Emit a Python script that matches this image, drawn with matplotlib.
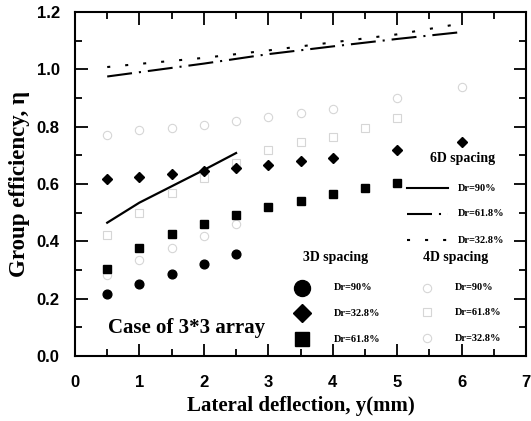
import numpy as np
import matplotlib
matplotlib.use("Agg")
import matplotlib.pyplot as plt

plt.rcParams['lines.scale_dashes'] = False

SERIF = "Liberation Serif"
SANS = "Liberation Sans"

# 3D spacing (filled markers)
x_3d_90 = [0.5, 1.0, 1.5, 2.0, 2.5]
eff_3d_90 = [0.215, 0.251, 0.287, 0.322, 0.357]
x_3d_618 = [0.5, 1.0, 1.5, 2.0, 2.5, 3.0, 3.5, 4.0, 4.5, 5.0]
eff_3d_618 = [0.305, 0.376, 0.424, 0.459, 0.491, 0.519, 0.542, 0.565, 0.585, 0.602]
x_3d_328 = [0.5, 1.0, 1.5, 2.0, 2.5, 3.0, 3.5, 4.0, 5.0, 6.0]
eff_3d_328 = [0.616, 0.625, 0.636, 0.645, 0.657, 0.666, 0.679, 0.690, 0.719, 0.746]

# 4D spacing (faint open markers in the scan)
x_4d_90 = [0.5, 1.0, 1.5, 2.0, 2.5]
eff_4d_90 = [0.282, 0.335, 0.376, 0.418, 0.46]
x_4d_618 = [0.5, 1.0, 1.5, 2.0, 2.5, 3.0, 3.5, 4.0, 4.5, 5.0]
eff_4d_618 = [0.422, 0.50, 0.567, 0.62, 0.675, 0.718, 0.745, 0.765, 0.795, 0.83]
x_4d_328 = [0.5, 1.0, 1.5, 2.0, 2.5, 3.0, 3.5, 4.0, 5.0, 6.0]
eff_4d_328 = [0.771, 0.788, 0.796, 0.806, 0.819, 0.835, 0.849, 0.863, 0.899, 0.937]

# 6D spacing (lines)
x_6d_90 = [0.5, 1.0, 1.5, 2.0, 2.5]
eff_6d_90 = [0.465, 0.535, 0.592, 0.649, 0.708]
x_6d = [0.5, 1.0, 2.0, 3.0, 4.0, 5.0, 6.0]
eff_6d_618 = [0.975, 0.99, 1.02, 1.053, 1.08, 1.106, 1.13]
eff_6d_328 = [1.008, 1.019, 1.04, 1.066, 1.094, 1.122, 1.16]

dr_labels = ["Dr=90%", "Dr=61.8%", "Dr=32.8%"]

ls_618 = (0, (18, 5, 1.5, 5))
ls_328 = (0, (2.2, 10.8))
faint = "#d6d6d6"

fig = plt.figure(figsize=(5.31, 4.21), dpi=100)
ax = fig.add_axes([75/531, 1 - 356/421, 451/531, 344/421])

# 6D lines
ax.plot(x_6d_90, eff_6d_90, color="k", lw=1.6)
ax.plot(x_6d, eff_6d_618, color="k", lw=1.5, linestyle=ls_618)
ax.plot(x_6d, eff_6d_328, color="k", lw=1.5, linestyle=ls_328)

# 4D open markers, barely visible in the scan
ax.plot(x_4d_328, eff_4d_328, "o", mfc="none", mec=faint, mew=0.8, ms=6, ls="none")
ax.plot(x_4d_618, eff_4d_618, "s", mfc="none", mec=faint, mew=0.8, ms=5.5, ls="none")
ax.plot(x_4d_90, eff_4d_90, "o", mfc="none", mec=faint, mew=0.8, ms=6, ls="none")

# 3D filled markers
ax.plot(x_3d_90, eff_3d_90, "o", color="k", ms=6.3, ls="none")
ax.plot(x_3d_618, eff_3d_618, "s", color="k", ms=6, ls="none")
ax.plot(x_3d_328, eff_3d_328, "D", color="k", ms=5.5, ls="none")

ax.set_xlim(0, 7)
ax.set_ylim(0, 1.2)
ax.set_xticks(np.arange(0, 8, 1))
ax.set_xticks(np.arange(0.5, 7, 1), minor=True)
ax.set_yticks(np.arange(0, 1.21, 0.2))
ax.set_yticks(np.arange(0.1, 1.2, 0.2), minor=True)
ax.set_yticklabels([f"{v:.1f}" for v in np.arange(0, 1.21, 0.2)])
ax.tick_params(which="both", direction="in", top=True, right=True, width=1.3)
ax.tick_params(which="major", length=9)
ax.tick_params(axis="x", which="major", pad=14)
ax.tick_params(axis="y", which="major", pad=11)
ax.tick_params(which="minor", length=5)
for lbl in ax.get_xticklabels() + ax.get_yticklabels():
    lbl.set_fontfamily(SANS)
    lbl.set_fontweight("bold")
    lbl.set_fontsize(12)
for sp in ax.spines.values():
    sp.set_linewidth(1.5)

ax.set_xlabel("Lateral deflection, y(mm)", fontfamily=SERIF, fontweight="bold", fontsize=15, labelpad=4)
ax.set_ylabel("Group efficiency, η", fontfamily=SERIF, fontweight="bold", fontsize=16.5, labelpad=5)

ax.text(0.247, 0.081, "Case of 3*3 array", transform=ax.transAxes, ha="center", va="center",
        fontfamily=SERIF, fontweight="bold", fontsize=15)

tr = ax.transAxes
txt = dict(transform=tr, fontfamily=SERIF, fontweight="bold", va="center")

# 3D legend
ax.text(0.577, 0.285, "3D spacing", ha="center", fontsize=10, **txt)
rows_3d = [0.198, 0.124, 0.049]
for y, mk, ms, lab in zip(rows_3d, ["o", "D", "s"], [11.5, 9, 10.5], ["Dr=90%", "Dr=32.8%", "Dr=61.8%"]):
    ax.plot([0.503], [y], mk, color="k", ms=ms, transform=tr, clip_on=False)
    ax.text(0.574, y, lab, ha="left", fontsize=7.5, **txt)

# 6D legend
ax.text(0.859, 0.573, "6D spacing", ha="center", fontsize=10, **txt)
rows_6d = [0.488, 0.413, 0.337]
for y, ls, lab in zip(rows_6d, ["-", ls_618, ls_328], dr_labels):
    ax.plot([0.736, 0.827], [y, y], color="k", lw=1.5, linestyle=ls, transform=tr)
    ax.text(0.849, y, lab, ha="left", fontsize=7.5, **txt)

# 4D legend
ax.text(0.845, 0.285, "4D spacing", ha="center", fontsize=10, **txt)
rows_4d = [0.198, 0.127, 0.052]
for y, mk, lab in zip(rows_4d, ["o", "s", "o"], dr_labels):
    ax.plot([0.78], [y], mk, mfc="none", mec=faint, mew=0.8, ms=6, transform=tr)
    ax.text(0.843, y, lab, ha="left", fontsize=7.5, **txt)

fig.savefig("out.png", dpi=100)
